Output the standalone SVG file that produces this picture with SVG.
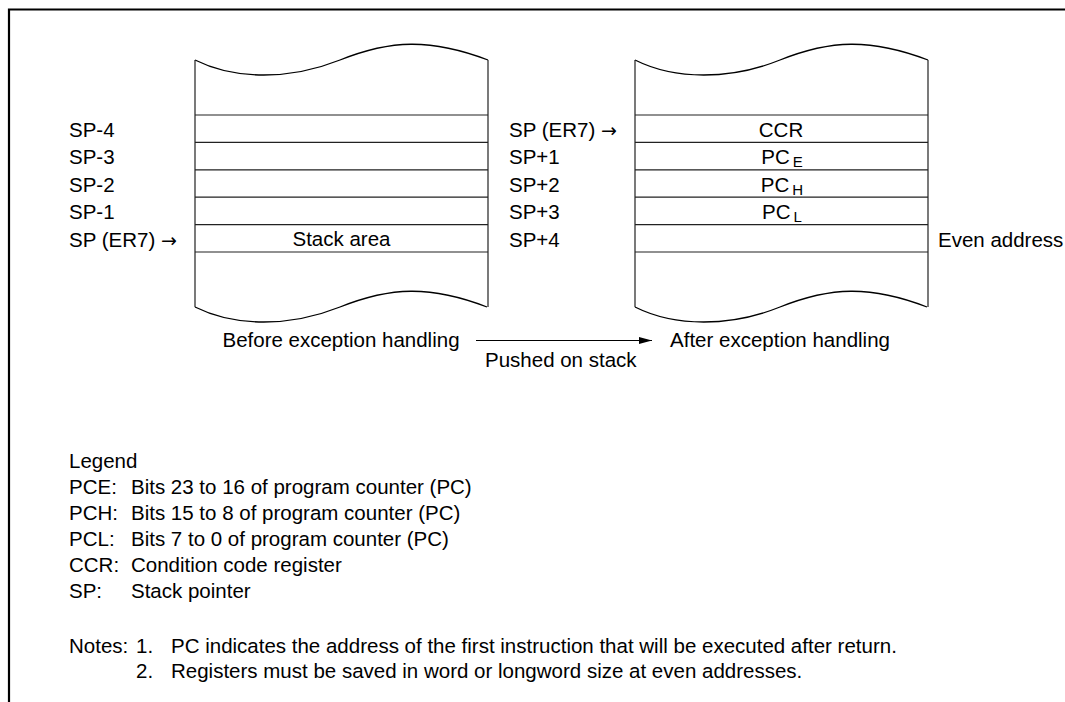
<svg xmlns="http://www.w3.org/2000/svg" width="1065" height="702" viewBox="0 0 1065 702">
<style>
text{font-family:"Liberation Sans",Arial,Helvetica,sans-serif;font-size:20.5px;fill:#000}
.mid{text-anchor:middle}
.sub{font-size:15px}
.arr{font-family:"DejaVu Sans",sans-serif;font-size:19px}
.ln{stroke:#222;stroke-width:1.2;fill:none}
.wave{stroke:#000;stroke-width:1.3;fill:none}
.frame{stroke:#000;stroke-width:2.2;fill:none}
</style>
<defs>
<marker id="ah" markerWidth="14" markerHeight="8" refX="13" refY="4" orient="auto" markerUnits="userSpaceOnUse">
<path d="M0,0.5 L13,4 L0,7.5 Z" fill="#000"/>
</marker>
<g id="stackShape">
<path class="wave" d="M195,60 C235,80 290,80 340,60 S430,38 488,60"/>
<path class="wave" d="M195,307 C235,327 290,327 340,307 S430,285 487,307"/>
<path class="ln" d="M195,60 V307 M488,60 V307"/>
<path class="ln" d="M195,115 H488 M195,142.4 H488 M195,169.8 H488 M195,197.2 H488 M195,224.6 H488 M195,252 H488"/>
</g>
</defs>
<g id="frame">
<path class="frame" d="M9,702 V9.5 H1065"/>
</g>
<g id="stack-before">
<use href="#stackShape"/>
<text class="mid" x="341.5" y="246">Stack area</text>
<text class="mid" x="341" y="347">Before exception handling</text>
</g>
<g id="labels-before">
<text x="69" y="137">SP-4</text>
<text x="69" y="164.4">SP-3</text>
<text x="69" y="191.8">SP-2</text>
<text x="69" y="219.2">SP-1</text>
<text x="69" y="246.6">SP (ER7) <tspan class="arr">→</tspan></text>
</g>
<g id="stack-after">
<use href="#stackShape" transform="translate(440,0)"/>
<text class="mid" x="781" y="137">CCR</text>
<text class="mid" x="782" y="164.4">PC<tspan class="sub" dx="3" dy="3">E</tspan></text>
<text class="mid" x="782" y="191.8">PC<tspan class="sub" dx="3" dy="3">H</tspan></text>
<text class="mid" x="782" y="219.2">PC<tspan class="sub" dx="3" dy="3">L</tspan></text>
<text x="780" y="347" class="mid">After exception handling</text>
</g>
<g id="labels-after">
<text x="509" y="137">SP (ER7) <tspan class="arr">→</tspan></text>
<text x="509" y="164.4">SP+1</text>
<text x="509" y="191.8">SP+2</text>
<text x="509" y="219.2">SP+3</text>
<text x="509" y="246.6">SP+4</text>
<text x="938" y="246.6">Even address</text>
</g>
<g id="connectors">
<line x1="476" y1="340.5" x2="652" y2="340.5" stroke="#000" stroke-width="1.2" marker-end="url(#ah)"/>
<text x="485" y="367">Pushed on stack</text>
</g>
<g id="legend">
<text x="69" y="468">Legend</text>
<text x="69" y="494">PCE:</text><text x="131" y="494">Bits 23 to 16 of program counter (PC)</text>
<text x="69" y="520">PCH:</text><text x="131" y="520">Bits 15 to 8 of program counter (PC)</text>
<text x="69" y="546">PCL:</text><text x="131" y="546">Bits 7 to 0 of program counter (PC)</text>
<text x="69" y="572">CCR:</text><text x="131" y="572">Condition code register</text>
<text x="69" y="598">SP:</text><text x="131" y="598">Stack pointer</text>
</g>
<g id="notes">
<text x="69" y="653">Notes:</text>
<text x="136" y="653">1.</text><text x="171" y="653">PC indicates the address of the first instruction that will be executed after return.</text>
<text x="136" y="678">2.</text><text x="171" y="678">Registers must be saved in word or longword size at even addresses.</text>
</g>
</svg>
